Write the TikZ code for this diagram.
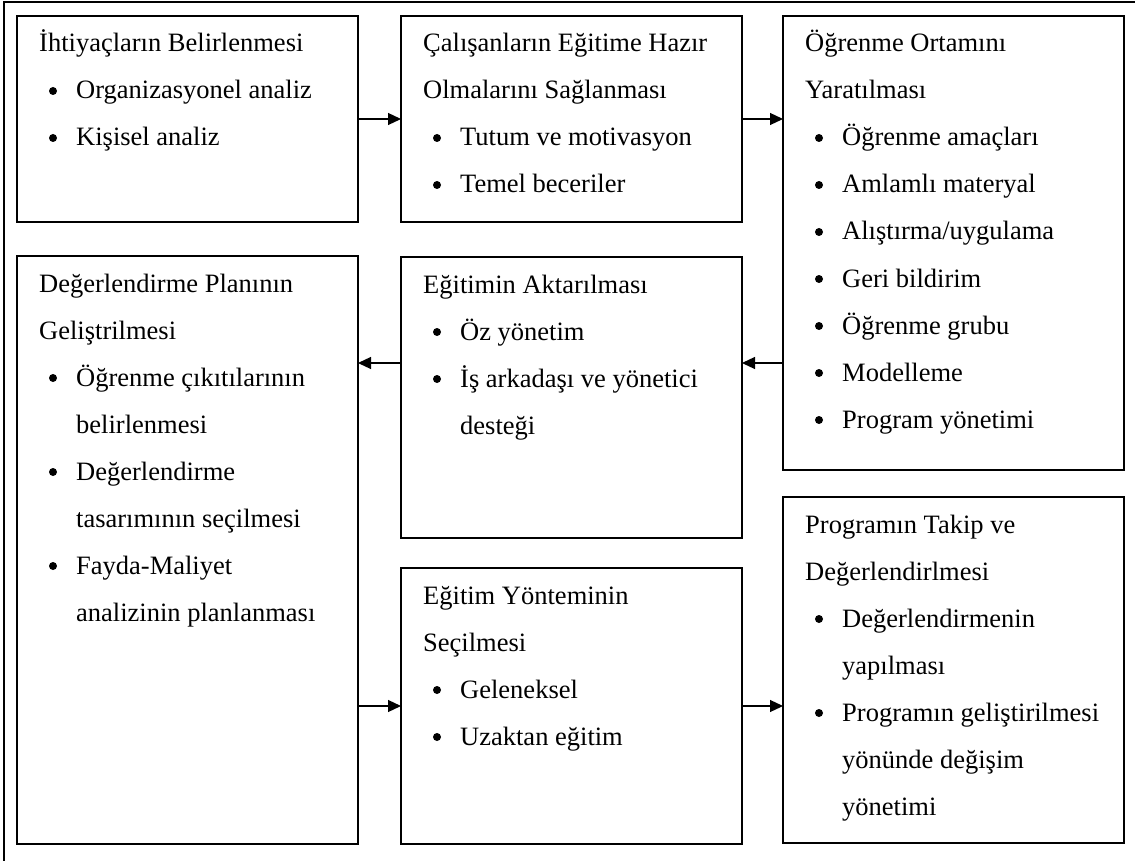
\documentclass[tikz,border=0pt]{standalone}
\usepackage{fontspec}
\setmainfont{Liberation Serif}
\usetikzlibrary{arrows.meta}

% heading line #2 of box #1
\newcommand\hd[3]{\node[txt] (#1h#2) at ([shift={(22,{36+47*(#2-1)})}]#1.north west) {#3};}
% bulleted item starting on line #2 of box #1
\newcommand\bl[3]{%
  \fill ([shift={(36,{28+47*(#2-1)})}]#1.north west) circle (4);
  \node[txt] (#1b#2) at ([shift={(59,{36+47*(#2-1)})}]#1.north west) {#3};}
% continuation line of a bulleted item
\newcommand\cl[3]{\node[txt] (#1c#2) at ([shift={(59,{36+47*(#2-1)})}]#1.north west) {#3};}

\begin{document}
\begin{tikzpicture}[x=1pt,y=-1pt,
  stage/.style={draw, line width=2.4pt, rectangle, anchor=north west,
    inner sep=0pt, outer sep=0pt, minimum width=341pt},
  txt/.style={anchor=base west, inner sep=0pt,
    font=\fontsize{26.5pt}{47pt}\selectfont},
  flow/.style={line width=1.2pt, -{Triangle[length=13pt,width=12pt]}},
  frame/.style={line width=2.6pt}]

\useasboundingbox (0,0) rectangle (1135,861);

% outer frame
\draw[frame] (4,861) -- (4,2) -- (1135,2);

% stages
\node[stage, minimum height=206pt] (b1) at (17,16) {};
\node[stage, minimum height=206pt] (b2) at (401,16) {};
\node[stage, minimum height=454pt] (b3) at (783,16) {};
\node[stage, minimum height=588pt] (b4) at (17,256) {};
\node[stage, minimum height=281pt] (b5) at (401,257) {};
\node[stage, minimum height=276pt] (b6) at (401,568) {};
\node[stage, minimum height=346pt] (b7) at (783,497) {};

% texts
\hd{b1}{1}{İhtiyaçların Belirlenmesi}
\bl{b1}{2}{Organizasyonel analiz}
\bl{b1}{3}{Kişisel analiz}

\hd{b2}{1}{Çalışanların Eğitime Hazır}
\hd{b2}{2}{Olmalarını Sağlanması}
\bl{b2}{3}{Tutum ve motivasyon}
\bl{b2}{4}{Temel beceriler}

\hd{b3}{1}{Öğrenme Ortamını}
\hd{b3}{2}{Yaratılması}
\bl{b3}{3}{Öğrenme amaçları}
\bl{b3}{4}{Amlamlı materyal}
\bl{b3}{5}{Alıştırma/uygulama}
\bl{b3}{6}{Geri bildirim}
\bl{b3}{7}{Öğrenme grubu}
\bl{b3}{8}{Modelleme}
\bl{b3}{9}{Program yönetimi}

\hd{b4}{1}{Değerlendirme Planının}
\hd{b4}{2}{Geliştrilmesi}
\bl{b4}{3}{Öğrenme çıkıtılarının}
\cl{b4}{4}{belirlenmesi}
\bl{b4}{5}{Değerlendirme}
\cl{b4}{6}{tasarımının seçilmesi}
\bl{b4}{7}{Fayda-Maliyet}
\cl{b4}{8}{analizinin planlanması}

\hd{b5}{1}{Eğitimin Aktarılması}
\bl{b5}{2}{Öz yönetim}
\bl{b5}{3}{İş arkadaşı ve yönetici}
\cl{b5}{4}{desteği}

\hd{b6}{1}{Eğitim Yönteminin}
\hd{b6}{2}{Seçilmesi}
\bl{b6}{3}{Geleneksel}
\bl{b6}{4}{Uzaktan eğitim}

\hd{b7}{1}{Programın Takip ve}
\hd{b7}{2}{Değerlendirlmesi}
\bl{b7}{3}{Değerlendirmenin}
\cl{b7}{4}{yapılması}
\bl{b7}{5}{Programın geliştirilmesi}
\cl{b7}{6}{yönünde değişim}
\cl{b7}{7}{yönetimi}

% connectors
\coordinate (lvl) at (0,363);
\draw[flow] (b1.east) -- (b2.west);
\draw[flow] (b2.east) -- (b2.east -| b3.west);
\draw[flow] (b3.west |- lvl) -- (b5.east |- lvl);
\draw[flow] (b5.west |- lvl) -- (b4.east |- lvl);
\draw[flow] (b4.east |- b6.west) -- (b6.west);
\draw[flow] (b6.east) -- (b6.east -| b7.west);
\end{tikzpicture}
\end{document}
